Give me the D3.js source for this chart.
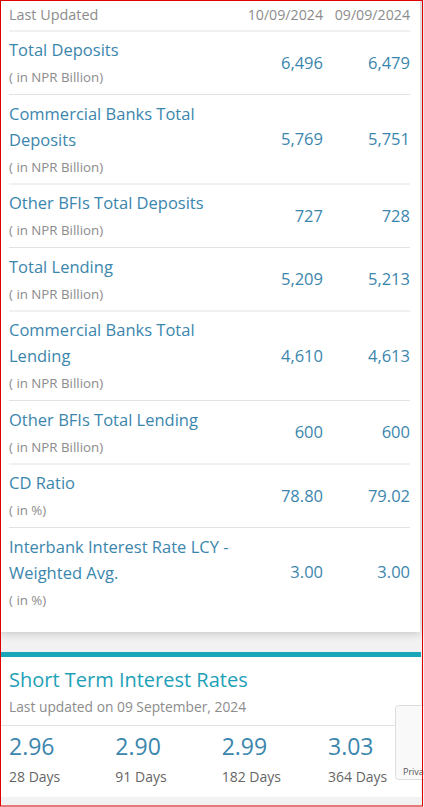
<!DOCTYPE html><html><head><meta charset="utf-8">
<script src="https://cdn.jsdelivr.net/npm/d3@7"></script>
<style>body{margin:0;background:#fff}svg{display:block}</style></head><body>
<svg id="c" width="424" height="807"></svg>
<script>
const dates=["10/09/2024","09/09/2024"];
const titles=[["Total Deposits"],["Commercial Banks Total","Deposits"],["Other BFIs Total Deposits"],["Total Lending"],["Commercial Banks Total","Lending"],["Other BFIs Total Lending"],["CD Ratio"],["Interbank Interest Rate LCY -","Weighted Avg."]];
const units=["( in NPR Billion)","( in NPR Billion)","( in NPR Billion)","( in NPR Billion)","( in NPR Billion)","( in NPR Billion)","( in %)","( in %)"];
const val1=["6,496","5,769","727","5,209","4,610","600","78.80","3.00"];
const val2=["6,479","5,751","728","5,213","4,613","600","79.02","3.00"];
const rateVals=["2.96","2.90","2.99","3.03"];
const rateLabels=["28 Days","91 Days","182 Days","364 Days"];

const svg=d3.select("#c");const F="'Open Sans',sans-serif";
const blue="#3b86ad",gray="#8c8c8c",line="#e2e2e2";
svg.append("rect").attr("width",424).attr("height",807).attr("fill","#f2f2f2");
const defs=svg.append("defs");
const fl=defs.append("filter").attr("id","sh").attr("x","-5%").attr("y","-5%").attr("width","110%").attr("height","110%");
fl.append("feDropShadow").attr("dx",0).attr("dy",2).attr("stdDeviation",4).attr("flood-color","#000").attr("flood-opacity",0.18);
svg.append("rect").attr("x",0).attr("y",-10).attr("width",420).attr("height",642).attr("fill","#fff").attr("filter","url(#sh)");
svg.append("text").attr("x",9).attr("y",20).attr("font-family",F).attr("font-size",14.4).attr("fill",gray).text("Last Updated");
const cx=[323,410];
dates.forEach((d,i)=>svg.append("text").attr("x",cx[i]).attr("y",20).attr("text-anchor","end").attr("font-family",F).attr("font-size",14.2).attr("fill",gray).text(d));
let y=31;
svg.append("line").attr("x1",9).attr("x2",410).attr("y1",y).attr("y2",y).attr("stroke",line);
titles.forEach((t,i)=>{
  const h=t.length===1?63.5:89.5;
  t.forEach((s,j)=>svg.append("text").attr("x",9).attr("y",y+25+26*j).attr("font-family",F).attr("font-size",16.5).attr("fill",blue).text(s));
  svg.append("text").attr("x",9).attr("y",y+25+26*(t.length-1)+26).attr("font-family",F).attr("font-size",13.3).attr("fill",gray).text(units[i]);
  [val1[i],val2[i]].forEach((v,k)=>svg.append("text").attr("x",cx[k]).attr("y",y+h/2+6).attr("text-anchor","end").attr("font-family",F).attr("font-size",16.5).attr("fill",blue).text(v));
  y+=h;
  if(i<titles.length-1)svg.append("line").attr("x1",9).attr("x2",410).attr("y1",y).attr("y2",y).attr("stroke",line);
});
svg.append("rect").attr("x",0).attr("y",652).attr("width",421).attr("height",145).attr("fill","#fff");
svg.append("rect").attr("x",0).attr("y",652).attr("width",421).attr("height",5).attr("fill","#1aa5b8");
svg.append("text").attr("x",9).attr("y",687).attr("font-family",F).attr("font-size",20).attr("fill","#1e9fb8").text("Short Term Interest Rates");
svg.append("text").attr("x",9).attr("y",712).attr("font-family",F).attr("font-size",13.8).attr("fill",gray).text("Last updated on 09 September, 2024");
svg.append("line").attr("x1",0).attr("x2",421).attr("y1",725.5).attr("y2",725.5).attr("stroke",line);
const xs=d3.scalePoint().domain(rateLabels).range([9,328]);
rateLabels.forEach((l,i)=>{
  svg.append("text").attr("x",xs(l)).attr("y",755).attr("font-family",F).attr("font-size",23).attr("fill",blue).text(rateVals[i]);
  svg.append("text").attr("x",xs(l)).attr("y",782).attr("font-family",F).attr("font-size",14).attr("fill","#666").text(l);
});
svg.append("rect").attr("x",395.5).attr("y",705.5).attr("width",40).attr("height",74).attr("rx",3).attr("fill","#f9f9f9").attr("stroke","#ddd");
svg.append("text").attr("x",403).attr("y",775).attr("font-family",F).attr("font-size",9).attr("fill","#555").text("Priva");
svg.append("rect").attr("x",0.5).attr("y",0.5).attr("width",422).attr("height",805.5).attr("fill","none").attr("stroke","#e00000");
</script></body></html>
